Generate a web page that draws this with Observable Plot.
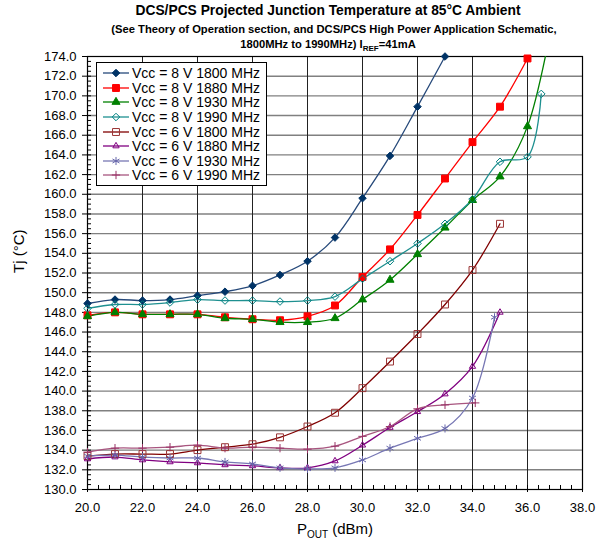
<!DOCTYPE html>
<html>
<head>
<meta charset="utf-8">
<script src="https://cdn.jsdelivr.net/npm/d3@7"></script>
<script src="https://cdn.jsdelivr.net/npm/@observablehq/plot@0.6"></script>
<style>
  body { margin: 0; background: #fff; font-family: "Liberation Sans", Arial, sans-serif; }
  #wrap { position: relative; width: 603px; height: 540px; overflow: hidden; }
  #title { position: absolute; left: 0; top: 0; width: 603px; height: 50px; z-index: 3; }
  .tl { position: absolute; left: 56px; width: 544px; text-align: center; font-weight: bold; white-space: nowrap; color: #000; }
  #chart { position: absolute; left: 0; top: 50px; z-index: 1; }
  #legend { position: absolute; left: 96px; top: 62px; width: 171px; height: 124px; border: 1px solid #000; background: #fff; box-sizing: border-box; padding-top: 3px; z-index: 2; }
  .lr { height: 14.6px; display: flex; align-items: center; font-size: 14px; white-space: nowrap; }
  .lr svg { margin-left: 6px; margin-right: 3px; flex: none; }
</style>
</head>
<body>
<div id="wrap">
  <div id="title">
    <div class="tl" style="top:3px;font-size:13.8px;">DCS/PCS Projected Junction Temperature at 85°C Ambient</div>
    <div class="tl" style="top:23px;font-size:11.2px;left:62px;">(See Theory of Operation section, and DCS/PCS High Power Application Schematic,</div>
    <div class="tl" style="top:38px;font-size:11.2px;">1800MHz to 1990MHz) I<span style="font-size:8px;position:relative;top:3px;">REF</span>=41mA</div>
  </div>
  <div id="chart"></div>
  <div id="legend"></div>
</div>
<script>
// ---- data ----
const seriesNames = [
  "Vcc = 8 V 1800 MHz", "Vcc = 8 V 1880 MHz", "Vcc = 8 V 1930 MHz", "Vcc = 8 V 1990 MHz",
  "Vcc = 6 V 1800 MHz", "Vcc = 6 V 1880 MHz", "Vcc = 6 V 1930 MHz", "Vcc = 6 V 1990 MHz"
];
const xTicks = [20, 22, 24, 26, 28, 30, 32, 34, 36, 38];
const yTicks = [130, 132, 134, 136, 138, 140, 142, 144, 146, 148, 150, 152, 154, 156, 158, 160, 162, 164, 166, 168, 170, 172, 174];

const pout8v1800 = [20, 21, 22, 23, 24, 25, 26, 27, 28, 29, 30, 31, 32, 33];
const tj8v1800   = [148.9, 149.3, 149.2, 149.3, 149.7, 150.1, 150.7, 151.8, 153.2, 155.6, 159.6, 163.9, 168.9, 174.0];
const pout8v1880 = [20, 21, 22, 23, 24, 25, 26, 27, 28, 29, 30, 31, 32, 33, 34, 35, 36];
const tj8v1880   = [147.7, 148.0, 147.8, 147.8, 147.8, 147.5, 147.3, 147.2, 147.6, 148.7, 151.6, 154.4, 157.9, 161.6, 165.3, 168.9, 173.8];
const pout8v1930 = [20, 21, 22, 23, 24, 25, 26, 27, 28, 29, 30, 31, 32, 33, 34, 35, 36, 37];
const tj8v1930   = [147.6, 148.0, 147.8, 147.8, 147.8, 147.4, 147.3, 147.0, 147.0, 147.4, 149.3, 151.3, 153.9, 156.6, 159.4, 161.8, 166.9, 179.0];
const pout8v1990 = [20, 21, 22, 23, 24, 25, 26, 27, 28, 29, 30, 31, 32, 33, 34, 35, 36, 36.5];
const tj8v1990   = [148.4, 148.8, 148.8, 149.0, 149.3, 149.2, 149.2, 149.1, 149.2, 149.6, 151.4, 153.2, 155.0, 157.0, 159.5, 163.3, 163.8, 170.2];
const pout6v1800 = [20, 21, 22, 23, 24, 25, 26, 27, 28, 29, 30, 31, 32, 33, 34, 35];
const tj6v1800   = [133.4, 133.6, 133.6, 133.6, 134.0, 134.3, 134.6, 135.3, 136.4, 137.8, 140.3, 143.0, 145.8, 148.8, 152.3, 157.0];
const pout6v1880 = [20, 21, 22, 23, 24, 25, 26, 27, 28, 29, 30, 31, 32, 33, 34, 35];
const tj6v1880   = [133.1, 133.3, 133.0, 132.8, 132.7, 132.5, 132.4, 132.2, 132.2, 132.9, 134.5, 136.3, 137.9, 139.7, 142.5, 148.0];
const pout6v1930 = [20, 21, 22, 23, 24, 25, 26, 27, 28, 29, 30, 31, 32, 33, 34, 34.8];
const tj6v1930   = [133.4, 133.5, 133.3, 133.2, 133.2, 132.8, 132.6, 132.2, 132.1, 132.2, 133.0, 134.2, 135.2, 136.2, 139.3, 147.5];
const pout6v1990 = [20, 21, 22, 23, 24, 25, 26, 27, 28, 29, 30, 31, 32, 33, 34.1];
const tj6v1990   = [133.8, 134.2, 134.2, 134.3, 134.5, 134.2, 134.3, 134.2, 134.1, 134.4, 135.4, 136.4, 138.2, 138.6, 138.8];

// ---- styles ----
const styles = [
  {line: "#26497A", stroke: "#003366", fill: "#003366", symbol: "diamond2", r: 3.4},
  {line: "#FF0000", stroke: "#FF0000", fill: "#FF0000", symbol: "square", r: 3.9},
  {line: "#008000", stroke: "#008000", fill: "#008000", symbol: "triangle", r: 3.0},
  {line: "#1E9090", stroke: "#008080", fill: "none", symbol: "diamond2", r: 3.4},
  {line: "#800000", stroke: "#993333", fill: "none", symbol: "square", r: 3.9},
  {line: "#800080", stroke: "#800080", fill: "none", symbol: "triangle2", r: 3.0},
  {line: "#7777B4", stroke: "#6666AA", fill: "none", symbol: "asterisk", r: 3.8},
  {line: "#A8557F", stroke: "#993366", fill: "none", symbol: "plus", r: 2.8}
];
const d3sym = {diamond2: d3.symbolDiamond2, square: d3.symbolSquare, triangle: d3.symbolTriangle,
  triangle2: d3.symbolTriangle2, asterisk: d3.symbolAsterisk, plus: d3.symbolPlus};

const xs = [pout8v1800, pout8v1880, pout8v1930, pout8v1990, pout6v1800, pout6v1880, pout6v1930, pout6v1990];
const ys = [tj8v1800, tj8v1880, tj8v1930, tj8v1990, tj6v1800, tj6v1880, tj6v1930, tj6v1990];
const series = seriesNames.map((name, k) => ({name, rows: xs[k].map((x, i) => ({x, y: ys[k][i]}))}));

const W = 603, H = 490, mL = 87, mR = 21, mT = 6, mB = 51;
const fw = W - mL - mR, fh = H - mT - mB;
const xMinor = d3.range(20, 38.001, 0.4).map(v => +v.toFixed(1)).filter(v => !xTicks.includes(v));
const yMinor = d3.range(130, 174.001, 0.5).filter(v => !yTicks.includes(v));

const marks = [
  Plot.ruleY(yTicks.filter(v => v > 130 && v < 174), {y: d => d, stroke: "#808080", strokeWidth: 1.4}),
  Plot.ruleX(xTicks.filter(v => v > 20 && v < 38), {x: d => d, stroke: "#222", strokeWidth: 1}),
  // minor ticks (inside)
  Plot.tickX(xMinor, {x: d => d, insetTop: fh - 4, stroke: "#000"}),
  Plot.tickY(yMinor, {y: d => d, insetRight: fw - 4, stroke: "#000"}),
  // major ticks (crossing)
  Plot.tickX(xTicks, {x: d => d, insetTop: fh - 4, insetBottom: -3, stroke: "#000"}),
  Plot.tickY(yTicks, {y: d => d, insetRight: fw - 4, insetLeft: -5, stroke: "#000"}),
  Plot.axisX(xTicks, {tickSize: 0, tickPadding: 13, tickFormat: d => d.toFixed(1), fontSize: 13, label: null}),
  Plot.axisY(yTicks, {tickSize: 0, tickPadding: 11, tickFormat: d => d.toFixed(1), fontSize: 13, label: null}),
  Plot.frame({stroke: "#000", strokeWidth: 1.2}),
  Plot.text(["Tj (°C)"], {frameAnchor: "left", dx: -68, rotate: -90, fontSize: 15, text: d => d}),
  Plot.text(["POUT (dBm)"], {frameAnchor: "bottom", dy: 44, fontSize: 15, text: d => d})
];
series.forEach((s, k) => {
  const st = styles[k];
  marks.push(Plot.line(s.rows, {x: "x", y: "y", stroke: st.line, strokeWidth: 1.3, curve: "catmull-rom", clip: true}));
});
series.forEach((s, k) => {
  const st = styles[k];
  marks.push(Plot.dot(s.rows.filter(d => d.y <= 174.2), {x: "x", y: "y", symbol: st.symbol, r: st.r,
    fill: st.fill, stroke: st.stroke, strokeWidth: 1}));
});

const chart = Plot.plot({
  width: W, height: H,
  marginLeft: mL, marginRight: mR, marginTop: mT, marginBottom: mB,
  x: {domain: [20, 38]},
  y: {domain: [130, 174]},
  style: {fontFamily: "'Liberation Sans', Arial, sans-serif", fontSize: "13px", color: "#000", background: "transparent", overflow: "visible"},
  marks
});
document.getElementById("chart").appendChild(chart);

// subscript for P_OUT
d3.select(chart).selectAll("text").filter(function() { return this.textContent === "POUT (dBm)"; })
  .each(function() {
    const t = d3.select(this);
    t.text(null);
    t.append("tspan").text("P");
    t.append("tspan").attr("font-size", 10).attr("dy", 4).text("OUT");
    t.append("tspan").attr("dy", -4).text(" (dBm)");
  });

// legend
const leg = d3.select("#legend");
seriesNames.forEach((name, k) => {
  const st = styles[k];
  const row = leg.append("div").attr("class", "lr");
  const svg = row.append("svg").attr("width", 26).attr("height", 14);
  svg.append("line").attr("x1", 0).attr("x2", 26).attr("y1", 7).attr("y2", 7)
    .attr("stroke", st.line).attr("stroke-width", 1.3);
  svg.append("path").attr("transform", "translate(13,7)")
    .attr("d", d3.symbol(d3sym[st.symbol], Math.PI * st.r * st.r)())
    .attr("fill", st.fill).attr("stroke", st.stroke).attr("stroke-width", 1);
  row.append("span").text(name);
});
</script>
</body>
</html>
